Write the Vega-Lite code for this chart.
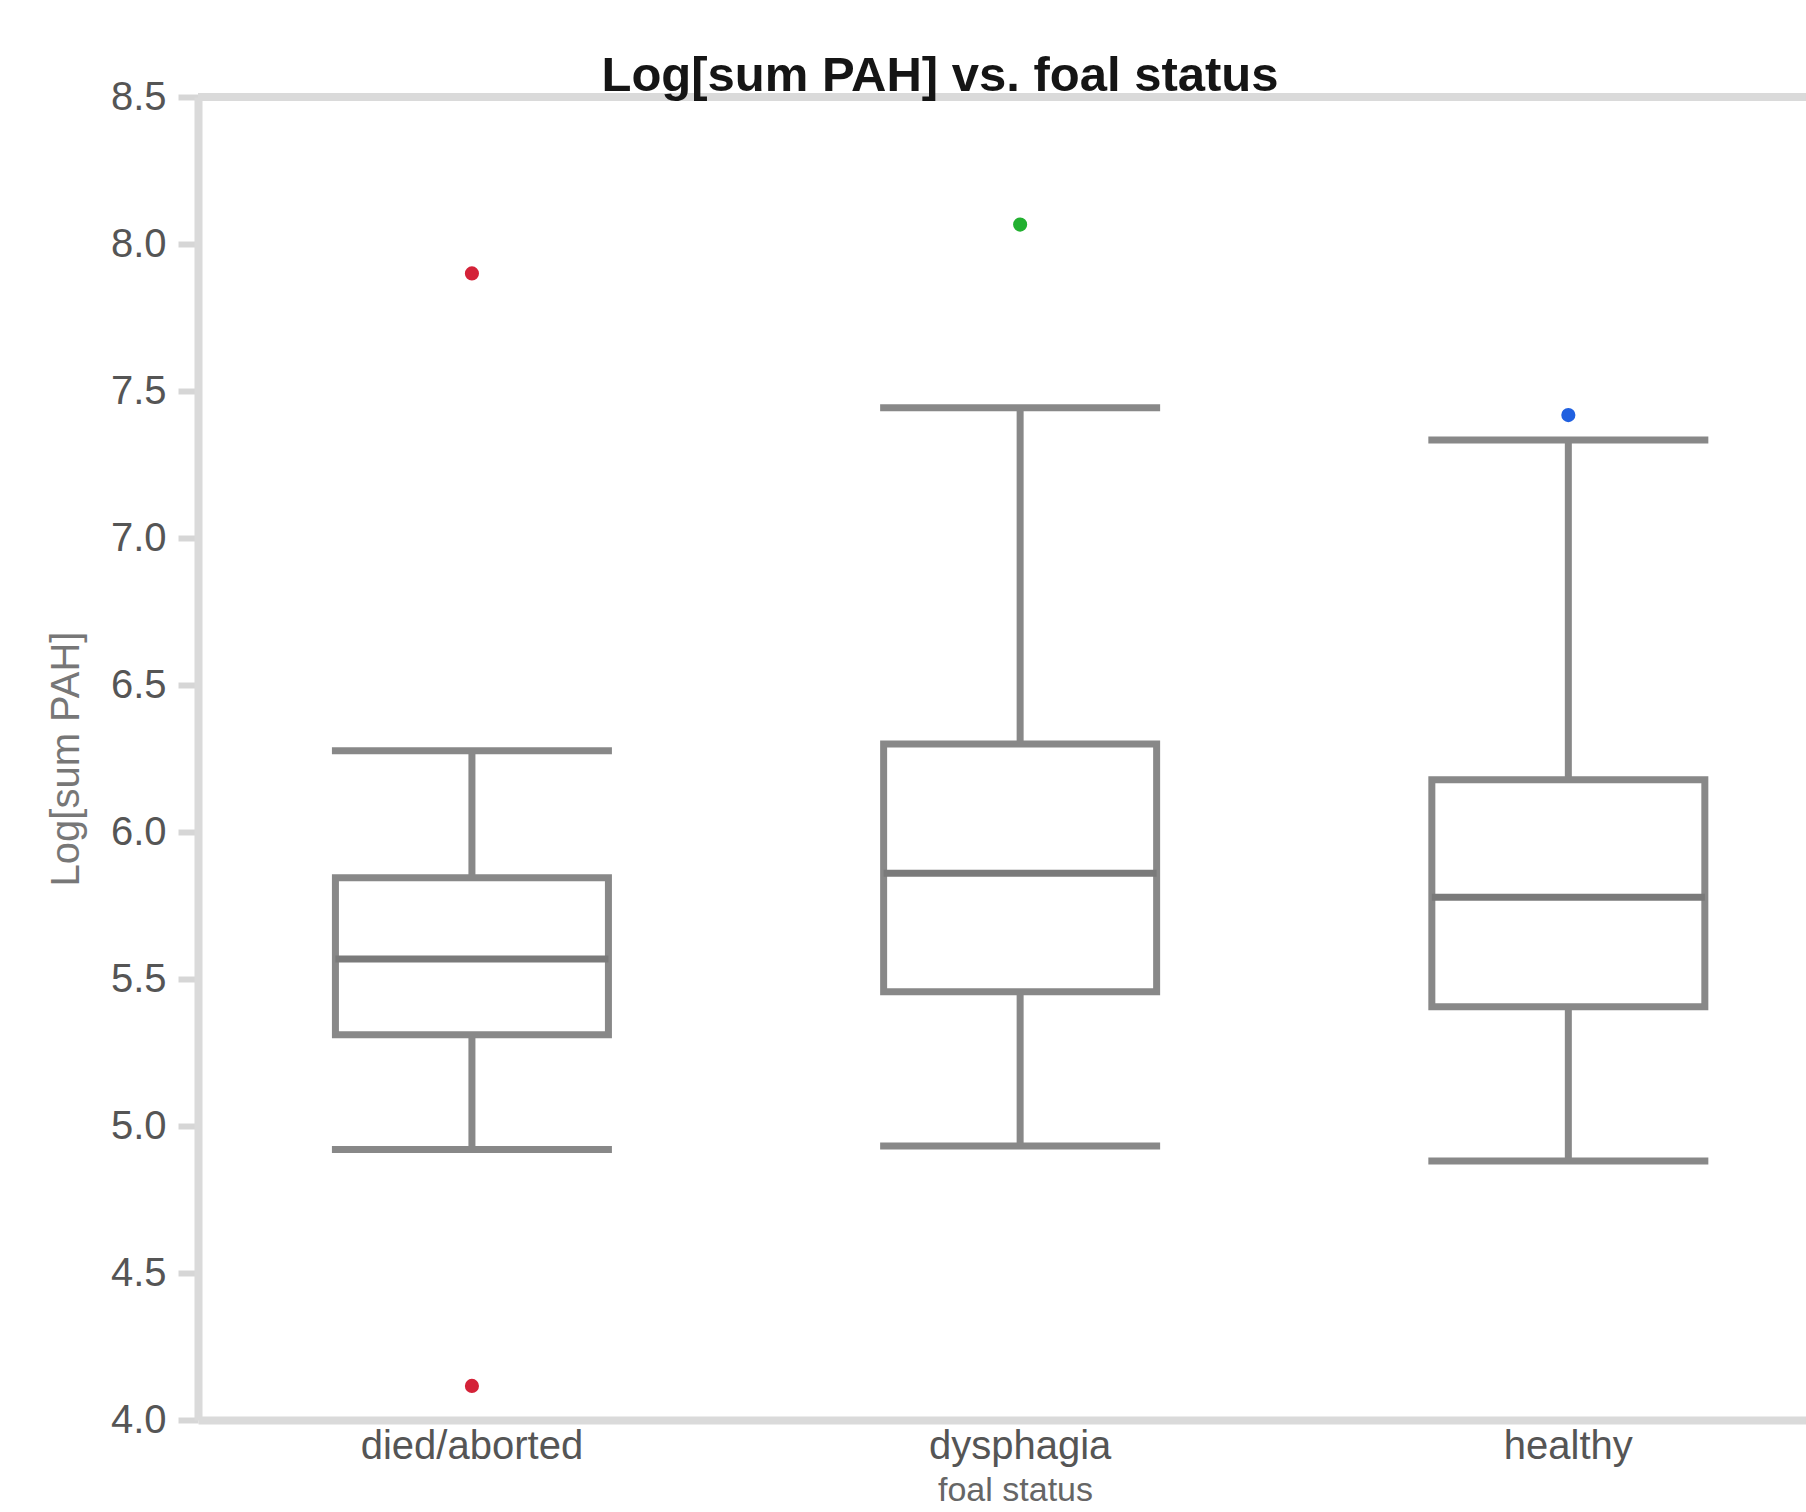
{
  "$schema": "https://vega.github.io/schema/vega-lite/v6.json",
  "autosize": {"type": "none"},
  "padding": {"left": 198, "top": 97, "right": 0, "bottom": 92},
  "width": 1608,
  "height": 1323,
  "background": "white",
  "config": {"view": {"stroke": null}},
  "title": {
    "text": "Log[sum PAH] vs. foal status",
    "font": "Liberation Sans, Arial",
    "fontSize": 49,
    "fontWeight": "bold",
    "color": "#151515",
    "anchor": "middle",
    "frame": "group",
    "dx": -62,
    "offset": -24
  },
  "datasets": {
    "boxes": [
      {"status": "died/aborted", "lower": 4.92, "q1": 5.31, "median": 5.568, "q3": 5.844, "upper": 6.276},
      {"status": "dysphagia", "lower": 4.932, "q1": 5.457, "median": 5.86, "q3": 6.299, "upper": 7.443},
      {"status": "healthy", "lower": 4.881, "q1": 5.406, "median": 5.778, "q3": 6.178, "upper": 7.333}
    ],
    "outliers": [
      {"status": "died/aborted", "value": 7.90},
      {"status": "died/aborted", "value": 4.116},
      {"status": "dysphagia", "value": 8.066},
      {"status": "healthy", "value": 7.418}
    ]
  },
  "data": {"name": "boxes"},
  "layer": [
    {
      "mark": {"type": "rule", "color": "#888888", "strokeWidth": 7},
      "encoding": {
        "x": {
          "field": "status",
          "type": "nominal",
          "sort": ["died/aborted", "dysphagia", "healthy"],
          "scale": {"type": "band", "domain": ["died/aborted", "dysphagia", "healthy"], "paddingInner": 0.502, "paddingOuter": 0.2176, "align": 0.576},
          "axis": {
            "labelAngle": 0,
            "ticks": false,
            "tickSize": 0,
            "domainColor": "#dadada",
            "domainWidth": 8,
            "labelFont": "Liberation Sans, Arial",
            "labelFontSize": 40,
            "labelColor": "#555555",
            "labelPadding": 6,
            "labelLimit": 0,
            "title": "foal status",
            "titleFont": "Liberation Sans, Arial",
            "titleFontSize": 34,
            "titleFontWeight": "normal",
            "titleColor": "#666666",
            "titleX": 817,
            "titlePadding": 7
          }
        },
        "y": {
          "field": "lower",
          "type": "quantitative",
          "scale": {"domain": [4, 8.5], "nice": false, "zero": false},
          "axis": {
            "values": [4, 4.5, 5, 5.5, 6, 6.5, 7, 7.5, 8, 8.5],
            "format": ".1f",
            "grid": false,
            "domainColor": "#dadada",
            "domainWidth": 8,
            "tickColor": "#d6d6d6",
            "tickWidth": 6,
            "tickSize": 20,
            "labelFont": "Liberation Sans, Arial",
            "labelFontSize": 40,
            "labelColor": "#555555",
            "labelPadding": 12,
            "title": "Log[sum PAH]",
            "titleFont": "Liberation Sans, Arial",
            "titleFontSize": 40,
            "titleFontWeight": "normal",
            "titleColor": "#777777",
            "titlePadding": 24
          }
        },
        "y2": {"field": "upper"}
      }
    },
    {
      "mark": {"type": "bar", "fill": "white", "stroke": "#888888", "strokeWidth": 7, "width": 273},
      "encoding": {
        "x": {"field": "status", "type": "nominal"},
        "y": {"field": "q1", "type": "quantitative"},
        "y2": {"field": "q3"}
      }
    },
    {
      "mark": {"type": "tick", "color": "#7a7a7a", "thickness": 7, "size": 273, "opacity": 1},
      "encoding": {
        "x": {"field": "status", "type": "nominal"},
        "y": {"field": "median", "type": "quantitative"}
      }
    },
    {
      "mark": {"type": "tick", "color": "#888888", "thickness": 7, "size": 280, "opacity": 1},
      "encoding": {
        "x": {"field": "status", "type": "nominal"},
        "y": {"field": "lower", "type": "quantitative"}
      }
    },
    {
      "mark": {"type": "tick", "color": "#888888", "thickness": 7, "size": 280, "opacity": 1},
      "encoding": {
        "x": {"field": "status", "type": "nominal"},
        "y": {"field": "upper", "type": "quantitative"}
      }
    },
    {
      "data": {"name": "outliers"},
      "mark": {"type": "circle", "size": 200, "opacity": 1},
      "encoding": {
        "x": {"field": "status", "type": "nominal"},
        "y": {"field": "value", "type": "quantitative"},
        "color": {
          "field": "status",
          "type": "nominal",
          "scale": {"domain": ["died/aborted", "dysphagia", "healthy"], "range": ["#d42238", "#22b030", "#2060e0"]},
          "legend": null
        }
      }
    },
    {
      "data": {"values": [{"k": 1}]},
      "mark": {"type": "rule", "color": "#dadada", "strokeWidth": 8},
      "encoding": {"y": {"datum": 8.5}}
    }
  ]
}
